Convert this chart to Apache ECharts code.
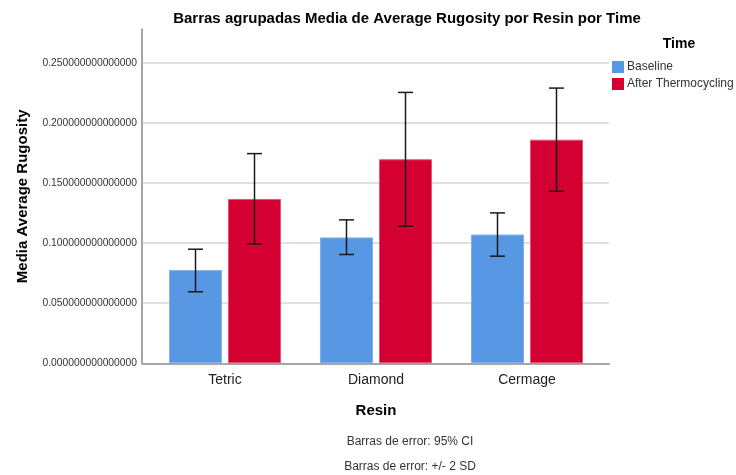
<!DOCTYPE html>
<html>
<head>
<meta charset="utf-8">
<script src="https://cdn.jsdelivr.net/npm/echarts@6/dist/echarts.min.js"></script>
<style>
    html, body { margin: 0; padding: 0; background: #fff; }
    #chart { width: 736px; height: 475px; }
</style>
</head>
<body>
<div id="chart"></div>
<script>
(function (win) {
    // datos
    var categories = ['Tetric', 'Diamond', 'Cermage'];
    var seriesNames = ['Baseline', 'After Thermocycling'];
    var baselineMean = [0.0775, 0.1047, 0.1071];
    var baselineLow = [0.0595, 0.0905, 0.0891];
    var baselineHigh = [0.0949, 0.1193, 0.1251];
    var thermoMean = [0.1367, 0.1697, 0.1860];
    var thermoLow = [0.0993, 0.1140, 0.1431];
    var thermoHigh = [0.1744, 0.2253, 0.2289];
    var yTicks = [0, 0.05, 0.10, 0.15, 0.20, 0.25];

    var font = 'Liberation Sans, Arial, sans-serif',
        yMax = 0.2778,
        barW = 53,
        gap = 6,
        offset = (barW + gap) / 2;

    var chart = echarts.init(document.getElementById('chart'));

    function errorSeries(low, high, dx) {
        var data = [];
        for (var i = 0; i < categories.length; i++) {
            data.push([i, low[i], high[i]]);
        }
        return {
            type: 'custom',
            xAxisIndex: 1,
            yAxisIndex: 1,
            z: 10,
            silent: true,
            data: data,
            renderItem: function (params, api) {
                var lo = api.coord([api.value(0), api.value(1)]);
                var hi = api.coord([api.value(0), api.value(2)]);
                var x = lo[0] + dx, cap = 7.5;
                var style = { stroke: '#1a1a1a', lineWidth: 1.5 };
                return {
                    type: 'group',
                    children: [
                        { type: 'line', shape: { x1: x, y1: lo[1], x2: x, y2: hi[1] }, style: style },
                        { type: 'line', shape: { x1: x - cap, y1: hi[1], x2: x + cap, y2: hi[1] }, style: style },
                        { type: 'line', shape: { x1: x - cap, y1: lo[1], x2: x + cap, y2: lo[1] }, style: style }
                    ]
                };
            }
        };
    }

    chart.setOption({
        animation: false,
        title: [{
            text: 'Barras agrupadas Media de Average Rugosity por Resin por Time',
            left: 402,
            top: 6,
            textAlign: 'center',
            textStyle: { fontFamily: font, fontSize: 15, fontWeight: 'bold', color: '#000' }
        }, {
            text: 'Time',
            left: 674,
            top: 32,
            textAlign: 'center',
            textStyle: { fontFamily: font, fontSize: 14, fontWeight: 'bold', color: '#000' }
        }, {
            text: 'Barras de error: 95% CI',
            left: 405,
            top: 431,
            textAlign: 'center',
            textStyle: { fontFamily: font, fontSize: 12, fontWeight: 'normal', color: '#333' }
        }, {
            text: 'Barras de error: +/- 2 SD',
            left: 405,
            top: 456,
            textAlign: 'center',
            textStyle: { fontFamily: font, fontSize: 12, fontWeight: 'normal', color: '#333' }
        }],
        legend: {
            orient: 'vertical',
            left: 607,
            top: 56,
            itemWidth: 12,
            itemHeight: 12,
            itemGap: 5,
            icon: 'rect',
            data: seriesNames,
            itemStyle: { borderWidth: 0 },
            textStyle: { fontFamily: font, fontSize: 12, color: '#333', padding: [0, 0, 0, -2] }
        },
        grid: [{
            left: 142, right: 127, top: 29.3, bottom: 111.7
        }, {
            left: 149.5, right: 133.5, top: 29.3, bottom: 111.7
        }],
        xAxis: [{
            type: 'value',
            gridIndex: 0,
            min: 0,
            max: 1,
            axisLine: { show: true, onZero: false, lineStyle: { color: '#a6a6a6', width: 2 } },
            axisTick: { show: false },
            axisLabel: { show: false },
            splitLine: { show: false }
        }, {
            type: 'category',
            gridIndex: 1,
            data: categories,
            axisLine: { show: false },
            axisTick: { show: false },
            axisLabel: { fontFamily: font, fontSize: 14, color: '#222', margin: 10 },
            name: 'Resin',
            nameLocation: 'middle',
            nameGap: 40,
            nameTextStyle: { fontFamily: font, fontSize: 15, fontWeight: 'bold', color: '#000' }
        }],
        yAxis: [{
            type: 'value',
            gridIndex: 0,
            min: 0,
            max: yMax,
            interval: 0.05,
            axisLine: { show: true, lineStyle: { color: '#a6a6a6', width: 2 } },
            axisTick: { show: false },
            axisLabel: {
                fontFamily: font,
                fontSize: 10.3,
                color: '#333',
                margin: 5,
                showMaxLabel: false,
                formatter: function (v) {
                    for (var i = 0; i < yTicks.length; i++) {
                        if (Math.abs(v - yTicks[i]) < 1e-9) return yTicks[i].toFixed(15);
                    }
                    return '';
                }
            },
            splitLine: { show: true, showMaxLine: false, lineStyle: { color: '#d6d6d6', width: 1.5 } },
            name: 'Media Average Rugosity',
            nameLocation: 'middle',
            nameGap: 112,
            nameTextStyle: { fontFamily: font, fontSize: 15, fontWeight: 'bold', color: '#000' }
        }, {
            type: 'value',
            gridIndex: 1,
            min: 0,
            max: yMax,
            show: false
        }],
        series: [{
            name: seriesNames[0],
            type: 'bar',
            xAxisIndex: 1,
            yAxisIndex: 1,
            barWidth: barW,
            barGap: (gap / barW * 100) + '%',
            itemStyle: { color: '#5897e3', borderColor: '#7fb0ec', borderWidth: 1 },
            data: baselineMean
        }, {
            name: seriesNames[1],
            type: 'bar',
            xAxisIndex: 1,
            yAxisIndex: 1,
            barWidth: barW,
            barGap: (gap / barW * 100) + '%',
            itemStyle: { color: '#d50032', borderColor: '#e2577a', borderWidth: 1 },
            data: thermoMean
        },
            errorSeries(baselineLow, baselineHigh, -offset),
            errorSeries(thermoLow, thermoHigh, offset)
        ]
    });
})(this);
</script>
</body>
</html>
